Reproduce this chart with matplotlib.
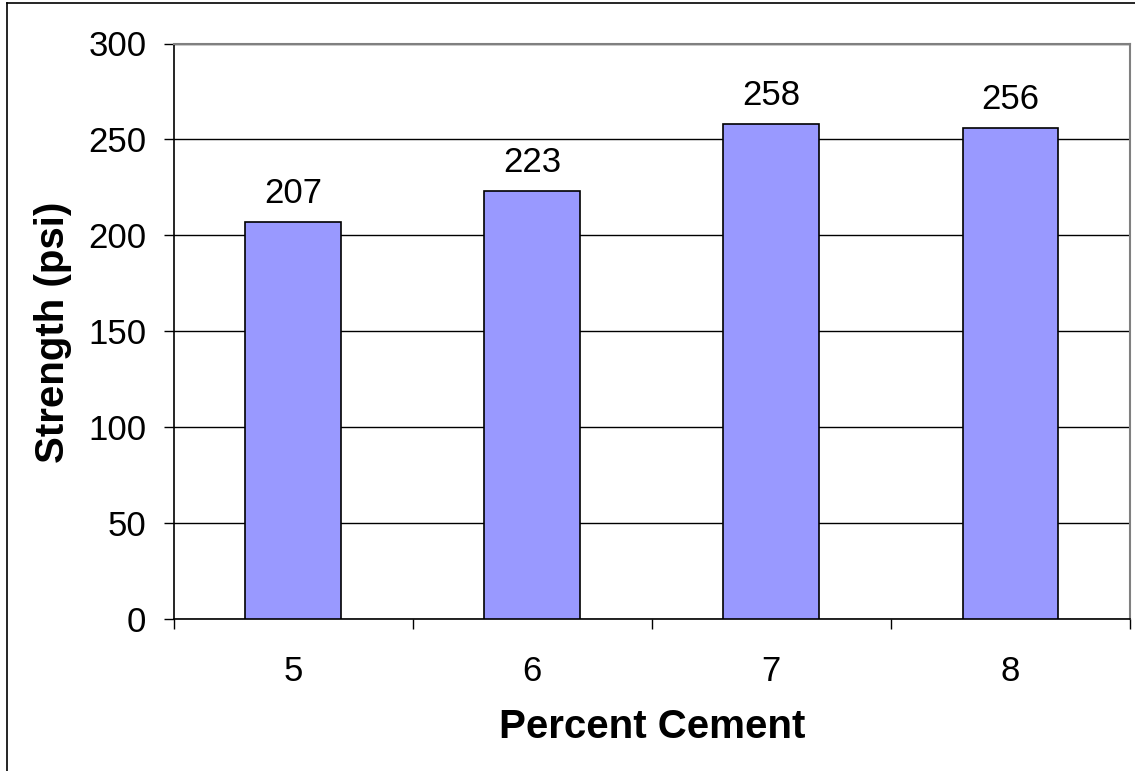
import matplotlib
matplotlib.use("Agg")
import matplotlib.pyplot as plt
from matplotlib.lines import Line2D
from matplotlib.ticker import FixedLocator, MultipleLocator

# data
cement = ["5", "6", "7", "8"]
strength = [207, 223, 258, 256]

plt.rcParams["font.family"] = ["Liberation Sans", "DejaVu Sans"]

W, H = 1135, 771
fig = plt.figure(figsize=(W / 100, H / 100), dpi=100)
fig.patch.set_facecolor("white")

# plot area in pixel coords
left, right, top, bottom = 173.5, 1130, 43.5, 619.3
ax = fig.add_axes([left / W, (H - bottom) / H, (right - left) / W, (bottom - top) / H])

x = list(range(len(cement)))
ax.bar(x, strength, width=0.4, color="#9999FF", edgecolor="black", linewidth=1.2, zorder=3)

ax.set_xlim(-0.5, len(cement) - 0.5)
ax.set_ylim(0, 300)
ax.yaxis.set_major_locator(MultipleLocator(50))
ax.grid(axis="y", color="black", linewidth=1, zorder=0)

fs = 25

# data labels
for xi, v in zip(x, strength):
    ax.annotate(str(v), (xi, v), xytext=(0, 14), textcoords="offset points",
                ha="center", va="baseline", fontsize=fs)

# x ticks: labels at centers, tick marks at category boundaries
ax.set_xticks(x)
ax.set_xticklabels(cement)
ax.xaxis.set_minor_locator(FixedLocator([i - 0.5 for i in range(len(cement) + 1)]))
ax.tick_params(axis="x", which="major", length=0, pad=25.5, labelsize=fs)
ax.tick_params(axis="x", which="minor", length=7.5, width=1, direction="out")
ax.tick_params(axis="y", length=7.5, width=1, direction="out", pad=12, labelsize=fs)

for s in ["left", "bottom"]:
    ax.spines[s].set_color("black")
    ax.spines[s].set_linewidth(1.2)
for s in ["top", "right"]:
    ax.spines[s].set_color("#808080")
    ax.spines[s].set_linewidth(1.5)

fig.text(652 / W, 1 - 727 / H, "Percent Cement", ha="center", va="center",
         fontsize=29, fontweight="bold")
fig.text(53 / W, 1 - 332 / H, "Strength (psi)", ha="center", va="center",
         rotation=90, fontsize=29, fontweight="bold")

# chart border (left and top edges visible)
fig.add_artist(Line2D([6.5 / W, 6.5 / W], [0, 1 - 2.7 / H], transform=fig.transFigure,
                      color="black", linewidth=1.2))
fig.add_artist(Line2D([6.5 / W, 1], [1 - 2.7 / H, 1 - 2.7 / H], transform=fig.transFigure,
                      color="black", linewidth=1.2))

fig.savefig("out.png", dpi=100)
